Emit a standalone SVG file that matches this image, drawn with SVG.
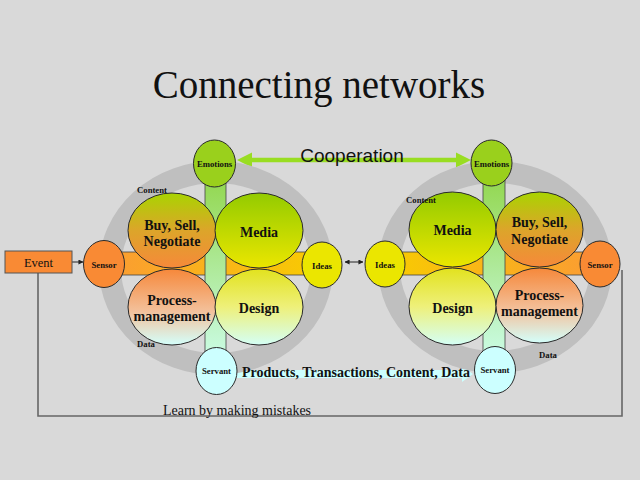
<svg xmlns="http://www.w3.org/2000/svg" width="640" height="480" viewBox="0 0 640 480">
<defs>
<linearGradient id="gBuy" x1="0" y1="0" x2="0" y2="1">
<stop offset="0" stop-color="#a9d400"/><stop offset="0.5" stop-color="#dca52a"/><stop offset="1" stop-color="#f6893a"/>
</linearGradient>
<linearGradient id="gMedia" x1="0" y1="0" x2="0" y2="1">
<stop offset="0" stop-color="#93cb00"/><stop offset="1" stop-color="#ebe600"/>
</linearGradient>
<linearGradient id="gProc" x1="0" y1="0" x2="0" y2="1">
<stop offset="0" stop-color="#f6883a"/><stop offset="0.55" stop-color="#f3c09a"/><stop offset="1" stop-color="#d4fffb"/>
</linearGradient>
<linearGradient id="gDesign" x1="0" y1="0" x2="0" y2="1">
<stop offset="0" stop-color="#e2e21e"/><stop offset="0.5" stop-color="#eef07a"/><stop offset="1" stop-color="#d4fff6"/>
</linearGradient>
<linearGradient id="gVbar" x1="0" y1="0" x2="0" y2="1">
<stop offset="0" stop-color="#8ed443"/><stop offset="1" stop-color="#cffff0"/>
</linearGradient>
<linearGradient id="gHbarL" x1="0" y1="0" x2="1" y2="0">
<stop offset="0" stop-color="#fb9b34"/><stop offset="1" stop-color="#f8cc00"/>
</linearGradient>
<linearGradient id="gHbarR" x1="0" y1="0" x2="1" y2="0">
<stop offset="0" stop-color="#f8cc00"/><stop offset="1" stop-color="#fb9b34"/>
</linearGradient>
<marker id="ah" viewBox="0 0 6 6" refX="5.5" refY="3" markerWidth="5" markerHeight="5" orient="auto-start-reverse">
<path d="M0,0 L6,3 L0,6 z" fill="#222"/>
</marker>
<style>
.ring{fill:none;stroke:#bfbfbf;stroke-width:22}
.q{stroke:#2a2a2a;stroke-width:1}
.sm{stroke:#2a2a2a;stroke-width:1}
.bar{stroke:#444;stroke-width:0.8}
.t{font-family:"Liberation Serif","Times New Roman",serif;fill:#111;text-anchor:middle}
.big{font-size:14px;font-weight:bold}
.lab{font-size:8.7px;font-weight:bold}
</style>
</defs>
<rect width="640" height="480" fill="#d9d9d9"/>
<text class="t" x="319" y="98" font-size="39">Connecting networks</text>

<g id="connectors">
<path d="M38,273 V416 H622 V270" fill="none" stroke="#666" stroke-width="1.6"/>
<line x1="72" y1="262" x2="83" y2="262" stroke="#222" stroke-width="1" marker-end="url(#ah)"/>
<line x1="345" y1="262" x2="363" y2="262" stroke="#222" stroke-width="1" marker-start="url(#ah)" marker-end="url(#ah)"/>
<polygon points="237,160 252,152.5 252,157.8 456,157.8 456,152.5 471,160 456,167.5 456,162.2 252,162.2 252,167.5" fill="#99dd22"/>
<polygon points="237,370 462,370 462,366 473,374 462,382 462,378 237,378" fill="#ccffff"/>
</g>

<!-- Left network -->
<g id="left-ring"><ellipse class="ring" cx="216" cy="268" rx="106" ry="96"/></g>
<g id="left-hbar"><rect class="bar" x="104" y="252" width="218" height="23" fill="url(#gHbarL)"/></g>
<g id="left-vbar"><rect class="bar" x="205" y="164" width="21" height="207" fill="url(#gVbar)"/></g>
<g id="left-buy"><ellipse class="q" cx="172" cy="230.5" rx="44" ry="37.5" fill="url(#gBuy)"/>
<text class="t big" x="172" y="230">Buy, Sell,</text><text class="t big" x="172" y="246">Negotiate</text></g>
<g id="left-media"><ellipse class="q" cx="259" cy="230.5" rx="44" ry="37.5" fill="url(#gMedia)"/>
<text class="t big" x="259" y="237">Media</text></g>
<g id="left-process"><ellipse class="q" cx="172" cy="307" rx="44" ry="38" fill="url(#gProc)"/>
<text class="t big" x="172" y="305">Process-</text><text class="t big" x="172" y="321">management</text></g>
<g id="left-design"><ellipse class="q" cx="259" cy="307" rx="44" ry="38" fill="url(#gDesign)"/>
<text class="t big" x="259" y="313">Design</text></g>
<g id="left-emotions"><ellipse class="sm" cx="214.5" cy="163.5" rx="21" ry="23.5" fill="#9ad01c"/>
<text class="t lab" x="214.5" y="167">Emotions</text></g>
<g id="left-servant"><ellipse class="sm" cx="216.5" cy="371" rx="20.5" ry="23.5" fill="#ccffff"/>
<text class="t lab" x="216.5" y="374">Servant</text></g>
<g id="left-sensor"><ellipse class="sm" cx="104" cy="264" rx="20.5" ry="23.5" fill="#f98a34"/>
<text class="t lab" x="104" y="267.5">Sensor</text></g>
<g id="left-ideas"><ellipse class="sm" cx="322" cy="265" rx="20" ry="23" fill="#ebe600"/>
<text class="t lab" x="322" y="268.5">Ideas</text></g>
<text class="t lab" x="152" y="193">Content</text>
<text class="t lab" x="146" y="347">Data</text>

<!-- Right network -->
<g id="right-ring"><ellipse class="ring" cx="495" cy="267" rx="106" ry="95"/></g>
<g id="right-hbar"><rect class="bar" x="385" y="252" width="215" height="23" fill="url(#gHbarR)"/></g>
<g id="right-vbar"><rect class="bar" x="483" y="163" width="22" height="207" fill="url(#gVbar)"/></g>
<g id="right-media"><ellipse class="q" cx="452.5" cy="229.5" rx="43.5" ry="37.5" fill="url(#gMedia)"/>
<text class="t big" x="452.5" y="235">Media</text></g>
<g id="right-buy"><ellipse class="q" cx="539.5" cy="229.5" rx="43.5" ry="37.5" fill="url(#gBuy)"/>
<text class="t big" x="539.5" y="227">Buy, Sell,</text><text class="t big" x="539.5" y="244">Negotiate</text></g>
<g id="right-design"><ellipse class="q" cx="452.5" cy="306.5" rx="43.5" ry="38.5" fill="url(#gDesign)"/>
<text class="t big" x="452.5" y="313">Design</text></g>
<g id="right-process"><ellipse class="q" cx="539.5" cy="305.5" rx="43.5" ry="37.5" fill="url(#gProc)"/>
<text class="t big" x="539.5" y="300">Process-</text><text class="t big" x="539.5" y="316">management</text></g>
<g id="right-emotions"><ellipse class="sm" cx="491.5" cy="163" rx="20.5" ry="23" fill="#9ad01c"/>
<text class="t lab" x="491.5" y="166.5">Emotions</text></g>
<g id="right-servant"><ellipse class="sm" cx="495" cy="370" rx="20.5" ry="23.5" fill="#ccffff"/>
<text class="t lab" x="495" y="373">Servant</text></g>
<g id="right-ideas"><ellipse class="sm" cx="385" cy="264" rx="20" ry="23" fill="#ebe600"/>
<text class="t lab" x="385" y="267.5">Ideas</text></g>
<g id="right-sensor"><ellipse class="sm" cx="600" cy="264" rx="20" ry="23" fill="#f98a34"/>
<text class="t lab" x="600" y="267.5">Sensor</text></g>
<text class="t lab" x="421" y="203">Content</text>
<text class="t lab" x="548" y="358">Data</text>

<g id="event"><rect x="5" y="251" width="67" height="22" fill="#f98a34" stroke="#555" stroke-width="1"/>
<text class="t" x="38.5" y="267" font-size="12.5">Event</text></g>

<text x="352" y="162" font-family="'Liberation Sans',Arial,sans-serif" font-size="19" text-anchor="middle" fill="#111">Cooperation</text>
<text class="t big" x="356" y="377">Products, Transactions, Content, Data</text>
<text class="t" x="237" y="415" font-size="14">Learn by making mistakes</text>
</svg>
